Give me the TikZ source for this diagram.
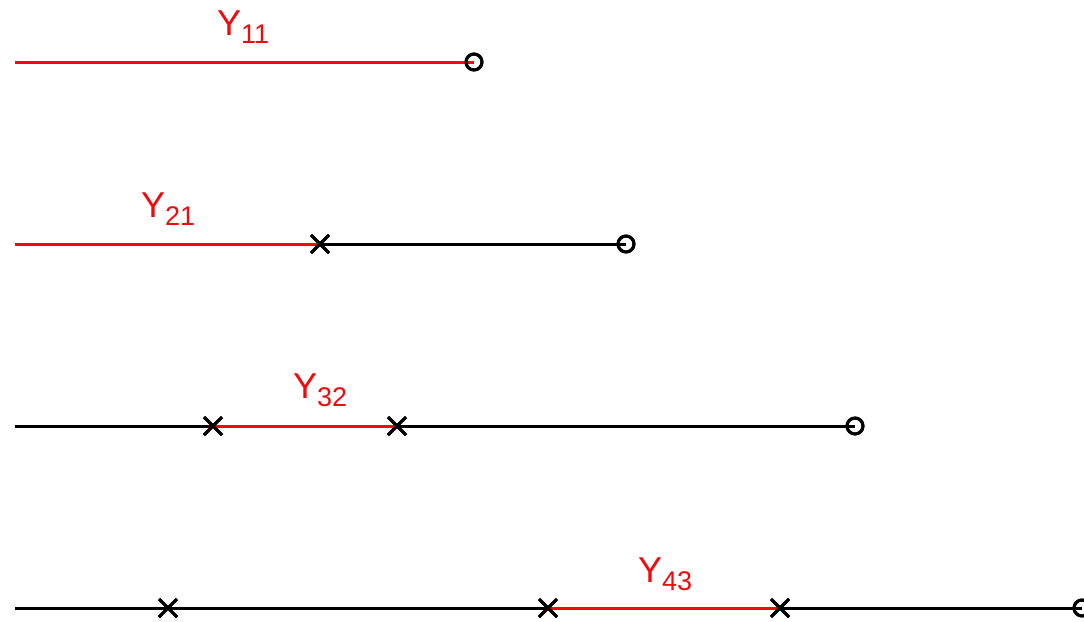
\documentclass[tikz,border=0pt]{standalone}
\usepackage{fontspec}
\setmainfont{Liberation Sans}
\usetikzlibrary{shapes.misc}
\definecolor{lred}{RGB}{240,10,12}
\tikzset{
  seg/.style={line width=3pt},
  redseg/.style={seg, draw=lred},
  blkseg/.style={seg, draw=black},
  xmark/.style={cross out, draw=black, line width=3pt, minimum size=18pt, inner sep=0pt, outer sep=0pt},
  omark/.style={circle, draw=black, line width=3pt, minimum size=16pt, inner sep=0pt},
  lab/.style={text=lred, inner sep=0pt, anchor=base west, font=\fontsize{36pt}{36pt}\selectfont},
}
\newcommand{\sublab}[1]{Y\raisebox{-8pt}{\fontsize{27pt}{27pt}\selectfont #1}}
\begin{document}
\begin{tikzpicture}[x=1pt,y=-1pt]
\useasboundingbox (0,0) rectangle (1084,621);
% row 1
\coordinate (s1) at (15,62);
\node[omark] (o1) at (474,62) {};
\draw[redseg] (s1) -- (o1.center);
\node[omark] at (o1) {};
\node[lab] (l1) at (217,35) {\sublab{11}};
% row 2
\coordinate (s2) at (15,244);
\node[xmark] (x21) at (320,244) {};
\node[omark] (o2) at (626,244) {};
\draw[redseg] (s2) -- (x21.center);
\draw[blkseg] (x21.center) -- (o2.center);
\node[xmark] at (x21) {};
\node[omark] at (o2) {};
\node[lab] (l2) at (141,217) {\sublab{21}};
% row 3
\coordinate (s3) at (15,426);
\node[xmark] (x31) at (213,426) {};
\node[xmark] (x32) at (397,426) {};
\node[omark] (o3) at (855,426) {};
\draw[blkseg] (s3) -- (x31.center);
\draw[redseg] (x31.center) -- (x32.center);
\draw[blkseg] (x32.center) -- (o3.center);
\node[xmark] at (x31) {};
\node[xmark] at (x32) {};
\node[omark] at (o3) {};
\node[lab] (l3) at (293,398) {\sublab{32}};
% row 4
\coordinate (s4) at (15,608);
\node[xmark] (x41) at (168,608) {};
\node[xmark] (x42) at (548,608) {};
\node[xmark] (x43) at (780,608) {};
\node[omark] (o4) at (1082,608) {};
\draw[blkseg] (s4) -- (x41.center);
\draw[blkseg] (x41.center) -- (x42.center);
\draw[redseg] (x42.center) -- (x43.center);
\draw[blkseg] (x43.center) -- (o4.center);
\node[xmark] at (x41) {};
\node[xmark] at (x42) {};
\node[xmark] at (x43) {};
\node[omark] at (o4) {};
\node[lab] (l4) at (638,582) {\sublab{43}};
\end{tikzpicture}
\end{document}
